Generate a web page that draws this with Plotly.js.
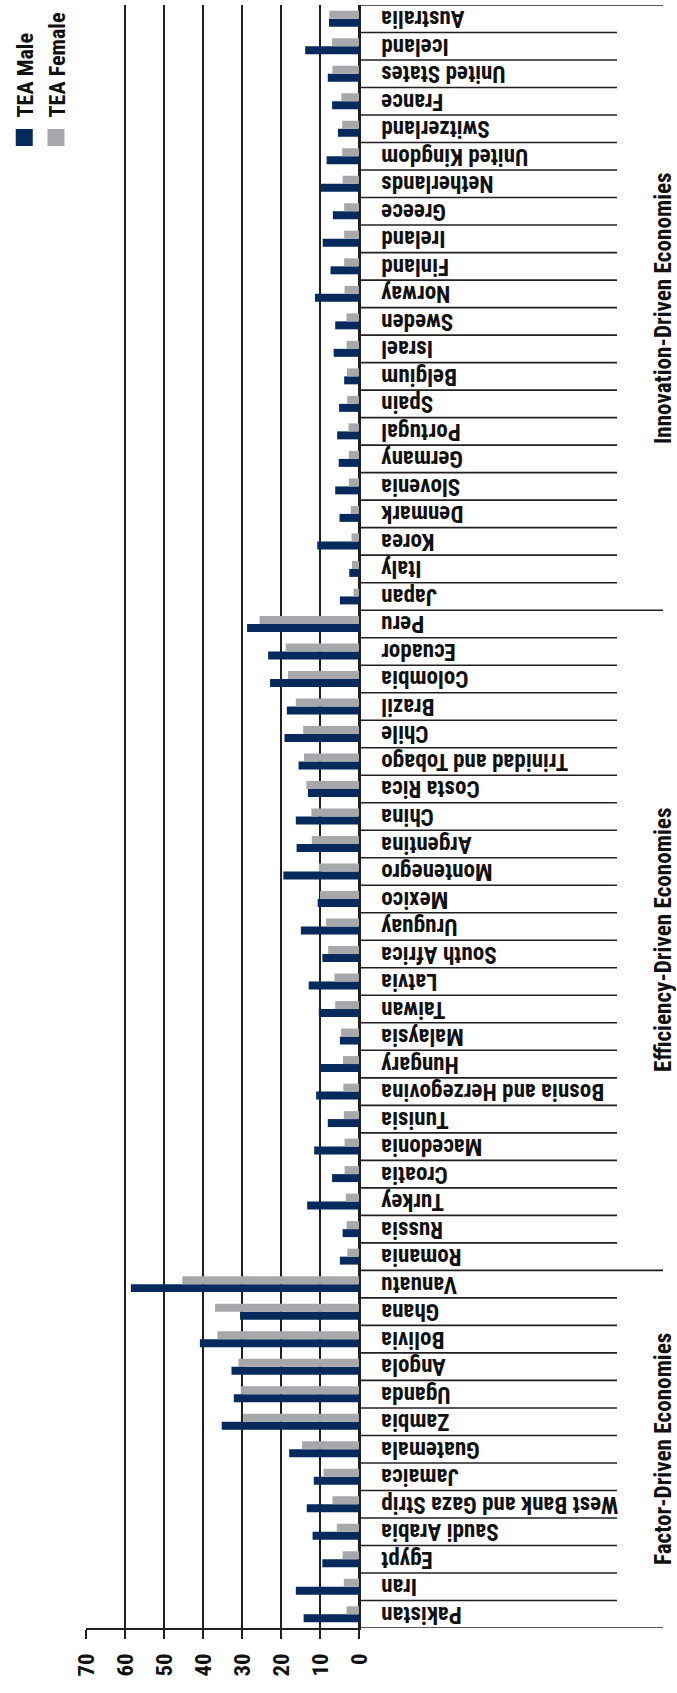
<!DOCTYPE html>
<html><head><meta charset="utf-8">
<script src="https://cdn.plot.ly/plotly-3.0.1.min.js"></script>
<style>
html,body{margin:0;padding:0;background:#fff;overflow:hidden;width:677px;height:1693px;}
#chart{position:absolute;left:0;top:0;width:1693px;height:677px;transform-origin:0 0;transform:translate(0,1693px) rotate(-90deg);}
.legendpoints path{d:path("M8.5,8.5H-8.5V-8.5H8.5Z");}
</style></head><body><div id="chart"></div>
<script>
const countries = [
  "Pakistan","Iran","Egypt","Saudi Arabia","West Bank and Gaza Strip","Jamaica","Guatemala","Zambia","Uganda","Angola","Bolivia","Ghana","Vanuatu",
  "Romania","Russia","Turkey","Croatia","Macedonia","Tunisia","Bosnia and Herzegovina","Hungary","Malaysia","Taiwan","Latvia","South Africa","Uruguay","Mexico","Montenegro","Argentina","China","Costa Rica","Trinidad and Tobago","Chile","Brazil","Colombia","Ecuador","Peru",
  "Japan","Italy","Korea","Denmark","Slovenia","Germany","Portugal","Spain","Belgium","Israel","Sweden","Norway","Finland","Ireland","Greece","Netherlands","United Kingdom","Switzerland","France","United States","Iceland","Australia"
];
const teaMale = [
  14.2,16.2,9.4,11.9,13.4,11.6,17.9,35.2,32.1,32.7,40.8,30.5,58.5,
  4.9,4.2,13.3,6.9,11.5,8.0,11.0,9.9,4.9,10.3,12.9,9.4,14.9,10.6,19.4,16.0,16.2,13.1,15.5,19.1,18.5,22.8,23.3,28.7,
  4.9,2.5,10.7,5.0,6.1,5.2,5.6,5.1,3.8,6.5,6.1,11.3,7.3,9.3,6.7,9.8,8.3,5.4,6.9,8.0,13.8,7.7
];
const teaFemale = [
  3.2,3.9,4.2,5.7,6.8,9.1,14.6,29.7,30.3,30.9,36.3,36.9,45.3,
  3.0,3.2,3.4,3.7,3.7,3.9,4.0,4.1,4.6,6.1,6.3,7.9,8.5,10.0,10.3,12.1,12.2,13.5,14.1,14.3,16.2,18.2,18.8,25.5,
  1.4,1.8,1.9,2.1,2.6,2.6,2.7,3.0,3.1,3.2,3.2,3.7,3.8,3.8,3.8,4.2,4.3,4.3,4.5,6.8,6.9,7.6
];
const groupNames = ["Factor-Driven Economies","Efficiency-Driven Economies","Innovation-Driven Economies"];
const groupSizes = [13,24,22];
const valueTicks = [0,10,20,30,40,50,60,70];

// pick the narrowest installed sans font and fit sizes to the reference text widths
const cv = document.createElement('canvas').getContext('2d');
function tw(font, text){ cv.font = font; return cv.measureText(text).width; }
function available(f){
  const t = 'WwMmIil10 Economies';
  return ['monospace','serif'].some(b => Math.abs(tw('bold 100px "' + f + '", ' + b, t) - tw('bold 100px ' + b, t)) > 0.5);
}
const CANDIDATES = ['Liberation Sans Narrow','Roboto Condensed','DejaVu Sans Condensed','Nimbus Sans Narrow','Liberation Sans','DejaVu Sans'];
const chosen = CANDIDATES.find(available) || 'sans-serif';
const FONT = '"' + chosen + '", sans-serif';
function fit(text, width, maxSize){
  const s = 100 * width / tw('bold 100px ' + FONT, text);
  return Math.min(maxSize, Math.round(s * 10) / 10);
}
const labelSize = fit('West Bank and Gaza Strip', 237, 24);
const groupSize = fit('Factor-Driven Economies', 232, 24);
const legendSize = fit('TEA Female', 105, 24);
const tickSize = fit('70', 23, 27);
const LINE = '#231f20';

const traces = [
  {type:'bar', name:'TEA Male', x:countries, y:teaMale, marker:{color:'#062a5c'}},
  {type:'bar', name:'TEA Female', x:countries, y:teaFemale, marker:{color:'#a7a8ab'}}
];

const shapes = [];
const groupEdges = [0];
groupSizes.forEach(s => groupEdges.push(groupEdges[groupEdges.length-1] + s));
for (let b = 0; b <= countries.length; b++) {
  const isGroup = groupEdges.includes(b);
  shapes.push({type:'line', xref:'x', yref:'paper', ysizemode:'pixel', yanchor:0,
    x0:b-0.5, x1:b-0.5, y0:0, y1:isGroup ? -304 : -258,
    line:{color:LINE, width:1.6}, layer:'above'});
}
const annotations = groupNames.map((g,i) => ({
  text:g, xref:'x', yref:'paper', x:(groupEdges[i] + groupEdges[i+1] - 1)/2, y:0,
  yanchor:'middle', xanchor:'center', yshift:-304, showarrow:false,
  font:{family:FONT, size:groupSize, color:'#111', weight:'bold'}
}));

const layout = {
  width:1693, height:677,
  margin:{l:65, r:5, t:86, b:318, autoexpand:false},
  paper_bgcolor:'#fff', plot_bgcolor:'#fff',
  barmode:'group', bargap:0.42, bargroupgap:0,
  showlegend:true,
  legend:{xref:'container', yref:'container', x:0.907, y:0.995, xanchor:'left', yanchor:'top',
    orientation:'v', font:{family:FONT, size:legendSize, color:'#111', weight:'bold'}, bgcolor:'rgba(0,0,0,0)', tracegroupgap:0},
  xaxis:{type:'category', range:[-0.5, countries.length-0.5], tickangle:-90,
    tickmode:'array', tickvals:countries, ticktext:countries,
    ticks:'', showline:true, linecolor:LINE, linewidth:2, showgrid:false,
    ticklabelstandoff:11, automargin:false,
    tickfont:{family:FONT, size:labelSize, color:'#111', weight:'bold'}},
  yaxis:{range:[0,70], tickvals:valueTicks, ticktext:valueTicks.map(String),
    ticks:'outside', ticklen:9, tickwidth:2, tickcolor:LINE,
    showline:true, linecolor:LINE, linewidth:2,
    showgrid:true, gridcolor:LINE, gridwidth:1.6,
    zeroline:true, zerolinecolor:LINE, zerolinewidth:2,
    ticklabelstandoff:10, automargin:false,
    tickfont:{family:FONT, size:tickSize, color:'#111', weight:'bold'}},
  shapes:shapes, annotations:annotations
};
Plotly.newPlot('chart', traces, layout, {staticPlot:true, displayModeBar:false});
</script></body></html>
